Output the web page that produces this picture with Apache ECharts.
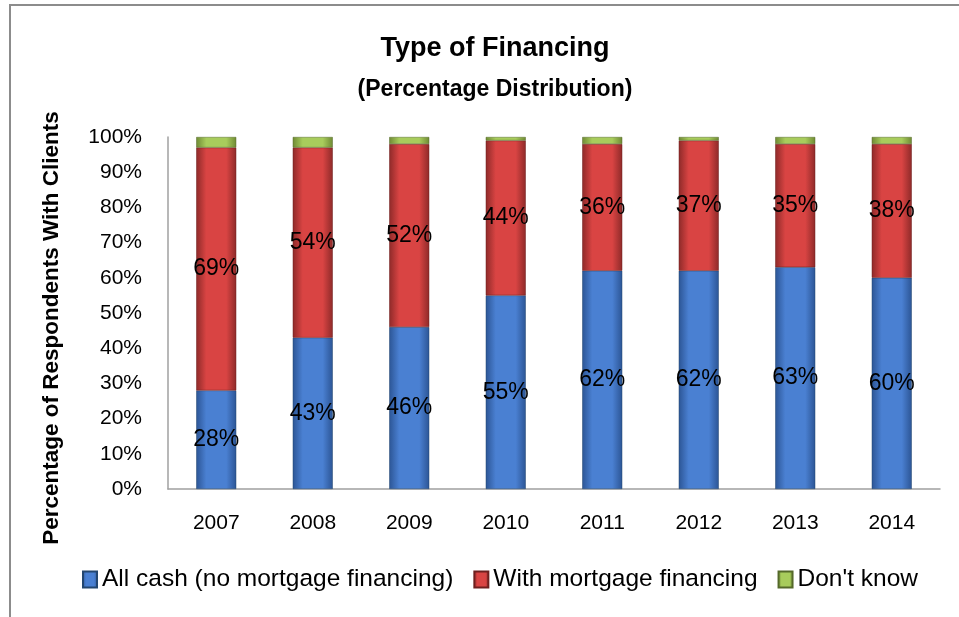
<!DOCTYPE html>
<html>
<head>
<meta charset="utf-8">
<title>Type of Financing</title>
<script src="https://cdn.jsdelivr.net/npm/echarts@6/dist/echarts.min.js"></script>
<style>
    html, body {margin: 0; padding: 0; background: #ffffff;}
    #chart {width: 959px; height: 617px;}
</style>
</head>
<body>
<div id="chart"></div>
<script>
var years = ['2007', '2008', '2009', '2010', '2011', '2012', '2013', '2014'];
var cashData = [28, 43, 46, 55, 62, 62, 63, 60];
var mortgageData = [69, 54, 52, 44, 36, 37, 35, 38];
var unknownData = [3, 3, 2, 1, 2, 1, 2, 2];
var yTicks = [0, 10, 20, 30, 40, 50, 60, 70, 80, 90, 100];

var fontFam = '"Liberation Sans", sans-serif';

// 柱子的立体渐变
function barColor(edge, mid) {
    return new echarts.graphic.LinearGradient(0, 0, 1, 0, [
        {offset: 0, color: edge},
        {offset: 0.25, color: mid},
        {offset: 0.75, color: mid},
        {offset: 1, color: edge}
    ]);
}

function pctLabel(show) {
    return {
        show: show,
        position: 'inside',
        fontSize: 23,
        fontFamily: fontFam,
        color: '#000000',
        formatter: function (p) { return p.value + '%'; }
    };
}

var myChart = echarts.init(document.getElementById('chart'));
myChart.setOption({
    animation: false,
    backgroundColor: '#ffffff',
    title: [{
        text: 'Type of Financing',
        left: 490,
        top: 30,
        textAlign: 'center',
        textStyle: {fontSize: 27, fontWeight: 'bold', fontFamily: fontFam, color: '#000'}
    }, {
        text: '(Percentage Distribution)',
        left: 490,
        top: 73,
        textAlign: 'center',
        textStyle: {fontSize: 23, fontWeight: 'bold', fontFamily: fontFam, color: '#000'}
    }],
    grid: {left: 168, right: 19, top: 137, bottom: 128},
    legend: {
        bottom: 20,
        left: 77,
        itemWidth: 14,
        itemHeight: 16,
        itemGap: 20,
        icon: 'rect',
        textStyle: {fontSize: 24.5, fontFamily: fontFam, color: '#000'},
        data: ['All cash (no mortgage financing)', 'With mortgage financing', "Don't know"]
    },
    xAxis: {
        type: 'category',
        data: years,
        axisLine: {lineStyle: {color: '#a0a0a0', width: 1.5}},
        axisTick: {show: false},
        axisLabel: {fontSize: 21, fontFamily: fontFam, color: '#000', margin: 24}
    },
    yAxis: {
        type: 'value',
        min: 0,
        max: 100,
        interval: 10,
        axisLine: {show: true, lineStyle: {color: '#a0a0a0', width: 1.5}},
        axisTick: {show: false},
        splitLine: {show: false},
        axisLabel: {
            fontSize: 21, fontFamily: fontFam, color: '#000', margin: 26,
            formatter: function (v) { return yTicks.indexOf(v) >= 0 ? v + '%' : ''; }
        }
    },
    graphic: [{
        type: 'text',
        rotation: Math.PI / 2,
        x: 52,
        y: 328,
        style: {
            text: 'Percentage of Respondents With Clients',
            fontSize: 22.5,
            fontWeight: 'bold',
            fontFamily: fontFam,
            fill: '#000',
            align: 'center',
            verticalAlign: 'middle'
        }
    }, {
        type: 'polyline',
        shape: {points: [[10, 617], [10, 5], [959, 5]]},
        style: {stroke: '#8c8c8c', lineWidth: 2, fill: null}
    }],
    series: [{
        name: 'All cash (no mortgage financing)',
        type: 'bar',
        stack: 'total',
        barWidth: 40,
        data: cashData,
        itemStyle: {color: barColor('#2c5595', '#4a80d2'), borderColor: '#23466f', borderWidth: 0.5},
        label: pctLabel(true)
    }, {
        name: 'With mortgage financing',
        type: 'bar',
        stack: 'total',
        data: mortgageData,
        itemStyle: {color: barColor('#8e2a29', '#d94443'), borderColor: '#6e1f1e', borderWidth: 0.5},
        label: pctLabel(true)
    }, {
        name: "Don't know",
        type: 'bar',
        stack: 'total',
        data: unknownData,
        itemStyle: {color: barColor('#6f8a34', '#a8cc5c'), borderColor: '#55692a', borderWidth: 0.5},
        label: pctLabel(false)
    }]
});
</script>
</body>
</html>
